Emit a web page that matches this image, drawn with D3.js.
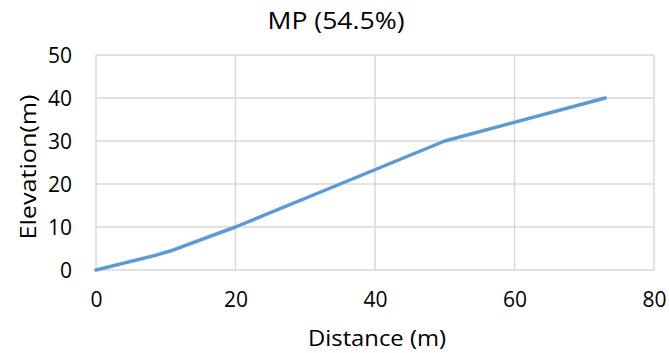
<!DOCTYPE html>
<html><head><meta charset="utf-8">
<script src="https://cdn.jsdelivr.net/npm/d3@7"></script>
<style>body{margin:0;background:#fff}svg{display:block}text{font-family:"Open Sans",sans-serif;fill:#000}</style>
</head><body><svg id="c" width="669" height="353"></svg>
<script>
const title = "MP (54.5%)";
const xLabel = "Distance (m)";
const yLabel = "Elevation(m)";
const distance = [0, 8.5, 11, 20, 35, 50, 73];
const elevation = [0, 3.4, 4.6, 10, 20, 30, 40];
const xTicks = [0, 20, 40, 60, 80];
const yTicks = [0, 10, 20, 30, 40, 50];

const svg = d3.select("#c");
const x = d3.scaleLinear().domain([0, 80]).range([96, 654]);
const y = d3.scaleLinear().domain([0, 50]).range([270, 55]);
const grid = "#d9d9d9";

// gridlines
svg.append("g").selectAll("line").data(yTicks).join("line")
  .attr("x1", x(0)).attr("x2", x(80)).attr("y1", d => y(d)).attr("y2", d => y(d))
  .attr("stroke", grid).attr("stroke-width", 1.5);
svg.append("g").selectAll("line").data(xTicks).join("line")
  .attr("y1", y(0)).attr("y2", y(50)).attr("x1", d => x(d)).attr("x2", d => x(d))
  .attr("stroke", grid).attr("stroke-width", 1.5);

// axes (labels only)
const yAxis = svg.append("g").attr("transform", `translate(${x(0)},0)`)
  .call(d3.axisLeft(y).tickValues(yTicks).tickSize(0).tickPadding(24));
yAxis.select(".domain").remove();
yAxis.selectAll("text").attr("font-size", 21).attr("font-family", '"Open Sans",sans-serif').attr("dy", "0.35em");

const xAxis = svg.append("g").attr("transform", `translate(0,${y(0)})`)
  .call(d3.axisBottom(x).tickValues(xTicks).tickSize(0).tickPadding(22));
xAxis.select(".domain").remove();
xAxis.selectAll("text").attr("font-size", 21).attr("font-family", '"Open Sans",sans-serif');

// line
const pts = distance.map((d, i) => [d, elevation[i]]);
svg.append("path").datum(pts)
  .attr("d", d3.line().x(d => x(d[0])).y(d => y(d[1])).curve(d3.curveLinear))
  .attr("fill", "none").attr("stroke", "#5b9bd5").attr("stroke-width", 3.5)
  .attr("stroke-linecap", "round").attr("stroke-linejoin", "round");

// titles
svg.append("text").attr("x", 336).attr("y", 29).attr("text-anchor", "middle")
  .attr("font-size", 24).attr("textLength", 137).attr("lengthAdjust", "spacingAndGlyphs").text(title);
svg.append("text").attr("x", 377).attr("y", 346).attr("text-anchor", "middle")
  .attr("font-size", 22).attr("textLength", 138).attr("lengthAdjust", "spacingAndGlyphs").text(xLabel);
svg.append("text").attr("transform", "translate(36,167) rotate(-90)").attr("text-anchor", "middle")
  .attr("font-size", 22).attr("textLength", 145).attr("lengthAdjust", "spacingAndGlyphs").text(yLabel);
</script></body></html>
